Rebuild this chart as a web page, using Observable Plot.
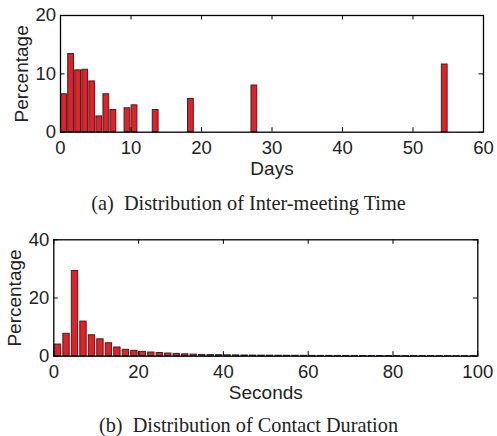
<!DOCTYPE html>
<html>
<head>
<meta charset="utf-8">
<script src="https://cdn.jsdelivr.net/npm/d3@7"></script>
<script src="https://cdn.jsdelivr.net/npm/@observablehq/plot@0.6"></script>
<style>
  html, body { margin: 0; padding: 0; background: #fff; overflow: hidden; }
  #wrap { width: 497px; height: 436px; position: relative; }
  .cap { font-family: "Liberation Serif", "Times New Roman", serif; font-size: 20.3px; color: #222;
         text-align: center; height: 24px; line-height: 24px; white-space: pre; }
  #capB { height: 20px; line-height: 20px; }
  svg { display: block; }
</style>
</head>
<body>
<div id="wrap">
  <div id="chartA"></div>
  <div class="cap" id="capA"></div>
  <div id="chartB"></div>
  <div class="cap" id="capB"></div>
</div>
<script>
// ---- Data: (a) Inter-meeting time ----
const daysX   = [0.5, 1.5, 2.5, 3.5, 4.5, 5.5, 6.5, 7.5, 9.5, 10.5, 13.5, 18.5, 27.5, 54.5];
const daysPct = [6.5, 13.4, 10.6, 10.7, 8.7, 2.7, 6.5, 3.8, 4.1, 4.6, 3.8, 5.7, 8.0, 11.6];
const daysXTicks = [0, 10, 20, 30, 40, 50, 60];
const daysYTicks = [0, 10, 20];

// ---- Data: (b) Contact duration ----
const secondsX = [1, 3, 5, 7, 9, 11, 13, 15, 17, 19, 21, 23, 25, 27, 29, 31, 33, 35, 37, 39,
                  41, 43, 45, 47, 49, 51, 53, 55, 57, 59, 61, 63, 65, 67, 69, 71, 73, 75, 77, 79,
                  81, 83, 85, 87, 89, 91, 93, 95, 97, 99];
const secondsPct = [4.0, 7.7, 29.3, 11.9, 7.2, 5.8, 4.45, 3.0, 2.2, 1.85, 1.5, 1.27, 1.1, 0.92, 0.8, 0.65, 0.55, 0.45, 0.4, 0.35,
                    0.3, 0.28, 0.25, 0.22, 0.2, 0.18, 0.16, 0.15, 0.14, 0.12, 0.11, 0.1, 0.1, 0.09, 0.08, 0.08, 0.07, 0.07, 0.06, 0.06,
                    0.05, 0.05, 0.05, 0.04, 0.04, 0.04, 0.03, 0.03, 0.03, 0.03];
const secondsXTicks = [0, 20, 40, 60, 80, 100];
const secondsYTicks = [0, 20, 40];

const captionA = "(a)  Distribution of Inter-meeting Time";
const captionB = "(b)  Distribution of Contact Duration";

const FONT = "'Liberation Sans', Arial, Helvetica, sans-serif";
const FS = 18.5;
const RED = "#ec1c24";
const TICK = 4.5;

function panel({xs, ys, xDomain, yDomain, xTicks, yTicks, barW, xLabel, yLabel,
                height, mt, mb, ml, mr}) {
  const data = xs.map((x, i) => ({x, y: ys[i]}));
  const innerH = height - mt - mb;
  const innerW = 497 - ml - mr;
  return Plot.plot({
    width: 497, height,
    marginTop: mt, marginBottom: mb, marginLeft: ml, marginRight: mr,
    style: {fontFamily: FONT, fontSize: FS + "px", color: "#222", background: "#fff", overflow: "visible"},
    x: {domain: xDomain},
    y: {domain: yDomain},
    marks: [
      Plot.rectY(data, {x1: d => d.x - barW / 2, x2: d => d.x + barW / 2, y: "y",
                        fill: RED, stroke: "#2a2a2a", strokeWidth: 1}),
      // inward ticks (MATLAB style), on all four sides
      Plot.ruleX(xTicks, {x: d => d, insetTop: innerH - TICK, stroke: "#000", strokeWidth: 1}),
      Plot.ruleX(xTicks, {x: d => d, insetBottom: innerH - TICK, stroke: "#000", strokeWidth: 1}),
      Plot.ruleY(yTicks, {y: d => d, insetRight: innerW - TICK, stroke: "#000", strokeWidth: 1}),
      Plot.ruleY(yTicks, {y: d => d, insetLeft: innerW - TICK, stroke: "#000", strokeWidth: 1}),
      Plot.frame({stroke: "#000", strokeWidth: 1.3}),
      Plot.axisX({ticks: xTicks, tickSize: 0, tickPadding: 9, label: null, fontSize: FS, tickFormat: d => String(d)}),
      Plot.axisY({ticks: yTicks, tickSize: 0, tickPadding: 4.5, label: null, fontSize: FS, tickFormat: d => String(d)}),
      Plot.text([xLabel], {text: d => d, frameAnchor: "bottom", lineAnchor: "middle", textAnchor: "middle",
                           dy: 36.5, fontSize: FS + 0.5, fill: "#222"}),
      Plot.text([yLabel], {text: d => d, frameAnchor: "left", lineAnchor: "middle", textAnchor: "middle",
                           dx: -39, rotate: -90, fontSize: FS + 0.5, fill: "#222"})
    ]
  });
}

document.getElementById("chartA").appendChild(panel({
  xs: daysX, ys: daysPct, xDomain: [0, 60], yDomain: [0, 20],
  xTicks: daysXTicks, yTicks: daysYTicks, barW: 0.82,
  xLabel: "Days", yLabel: "Percentage",
  height: 191, mt: 15, mb: 59.3, ml: 60, mr: 14
}));
document.getElementById("capA").textContent = captionA;

document.getElementById("chartB").appendChild(panel({
  xs: secondsX, ys: secondsPct, xDomain: [0, 100], yDomain: [0, 40],
  xTicks: secondsXTicks, yTicks: secondsYTicks, barW: 1.5,
  xLabel: "Seconds", yLabel: "Percentage",
  height: 200, mt: 24.3, mb: 59.3, ml: 53.3, mr: 19.7
}));
document.getElementById("capB").textContent = captionB;
</script>
</body>
</html>
